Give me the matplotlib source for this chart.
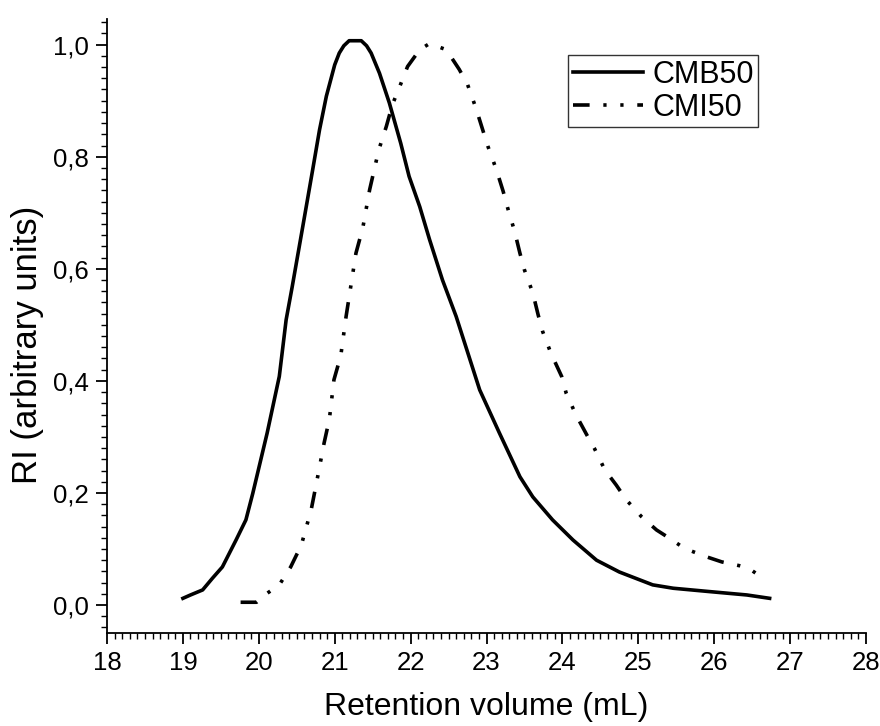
import matplotlib
matplotlib.use("Agg")
import matplotlib.pyplot as plt
from matplotlib.ticker import MultipleLocator, FuncFormatter

plt.rcParams['font.family'] = ['Liberation Sans', 'DejaVu Sans']

# CMB50 (solid)
cmb_x = [19.00, 19.10, 19.26, 19.39, 19.52, 19.70, 19.83, 19.92, 20.11, 20.27,
         20.36, 20.44, 20.58, 20.71, 20.80, 20.89, 21.00, 21.06, 21.12, 21.19,
         21.35, 21.42, 21.48, 21.59, 21.72, 21.87, 21.98, 22.12, 22.25, 22.42,
         22.60, 22.91, 23.17, 23.44, 23.61, 23.87, 24.14, 24.45, 24.75, 25.19,
         25.46, 25.94, 26.43, 26.73]
cmb_y = [0.012, 0.018, 0.027, 0.048, 0.068, 0.116, 0.152, 0.199, 0.307, 0.408,
         0.509, 0.568, 0.676, 0.777, 0.848, 0.908, 0.964, 0.985, 0.998, 1.007,
         1.007, 0.998, 0.985, 0.949, 0.896, 0.824, 0.765, 0.711, 0.652, 0.580,
         0.515, 0.384, 0.307, 0.229, 0.193, 0.152, 0.116, 0.080, 0.059, 0.036,
         0.030, 0.024, 0.018, 0.012]

# CMI50 (dash-dot-dot)
cmi_x = [19.76, 19.97, 20.11, 20.27, 20.42, 20.56, 20.69, 20.76, 20.86, 20.93,
         20.99, 21.08, 21.15, 21.28, 21.37, 21.46, 21.58, 21.68, 21.76, 21.85,
         21.96, 22.12, 22.25, 22.47, 22.64, 22.75, 22.86, 22.95, 23.02, 23.13,
         23.22, 23.28, 23.37, 23.44, 23.50, 23.61, 23.68, 23.74, 23.85, 23.99,
         24.05, 24.18, 24.32, 24.42, 24.56, 24.71, 24.84, 25.04, 25.24, 25.39,
         25.61, 25.90, 26.10, 26.34, 26.45, 26.60]
cmi_y = [0.005, 0.005, 0.021, 0.036, 0.068, 0.107, 0.170, 0.218, 0.289, 0.332,
         0.402, 0.445, 0.515, 0.628, 0.673, 0.741, 0.812, 0.854, 0.893, 0.923,
         0.961, 0.991, 1.002, 0.991, 0.956, 0.929, 0.887, 0.848, 0.818, 0.777,
         0.738, 0.708, 0.667, 0.628, 0.598, 0.557, 0.518, 0.488, 0.449, 0.408,
         0.378, 0.339, 0.304, 0.280, 0.241, 0.214, 0.188, 0.158, 0.134, 0.121,
         0.101, 0.086, 0.077, 0.070, 0.066, 0.052]

fig = plt.figure(figsize=(8.8, 7.26), dpi=100)
ax = fig.add_axes([0.1216, 0.128, 0.8625, 0.846])

ax.plot(cmb_x, cmb_y, color='black', lw=2.6, label='CMB50')
ax.plot(cmi_x, cmi_y, color='black', lw=2.6,
        linestyle=(0, (4.6, 3.8, 0.9, 3.8, 0.9, 3.8)), label='CMI50')

ax.set_xlim(18, 28)
ax.set_ylim(-0.05, 1.046)
ax.xaxis.set_major_locator(MultipleLocator(1))
ax.xaxis.set_minor_locator(MultipleLocator(0.1))
ax.yaxis.set_major_locator(MultipleLocator(0.2))
ax.yaxis.set_minor_locator(MultipleLocator(0.02))
ax.yaxis.set_major_formatter(FuncFormatter(lambda v, p: f"{v:.1f}".replace('.', ',')))

for s in ['top', 'right']:
    ax.spines[s].set_visible(False)
for s in ['left', 'bottom']:
    ax.spines[s].set_linewidth(1.3)

ax.tick_params(which='major', direction='out', length=8, width=1.3, labelsize=18.5, pad=5)
ax.tick_params(which='minor', direction='out', length=4, width=1.0)

ax.set_xlabel('Retention volume (mL)', fontsize=23, labelpad=12)
ax.set_ylabel('RI (arbitrary units)', fontsize=25)
ax.yaxis.set_label_coords(-0.083, 0.47)

leg = ax.legend(loc='upper right', bbox_to_anchor=(0.858, 0.941), fontsize=22,
                frameon=True, fancybox=False, borderpad=0.15, handlelength=2.3,
                handletextpad=0.3, labelspacing=0.1, borderaxespad=0)
leg.get_frame().set_edgecolor('black')
leg.get_frame().set_linewidth(1.0)

fig.savefig('out.png', dpi=100)
